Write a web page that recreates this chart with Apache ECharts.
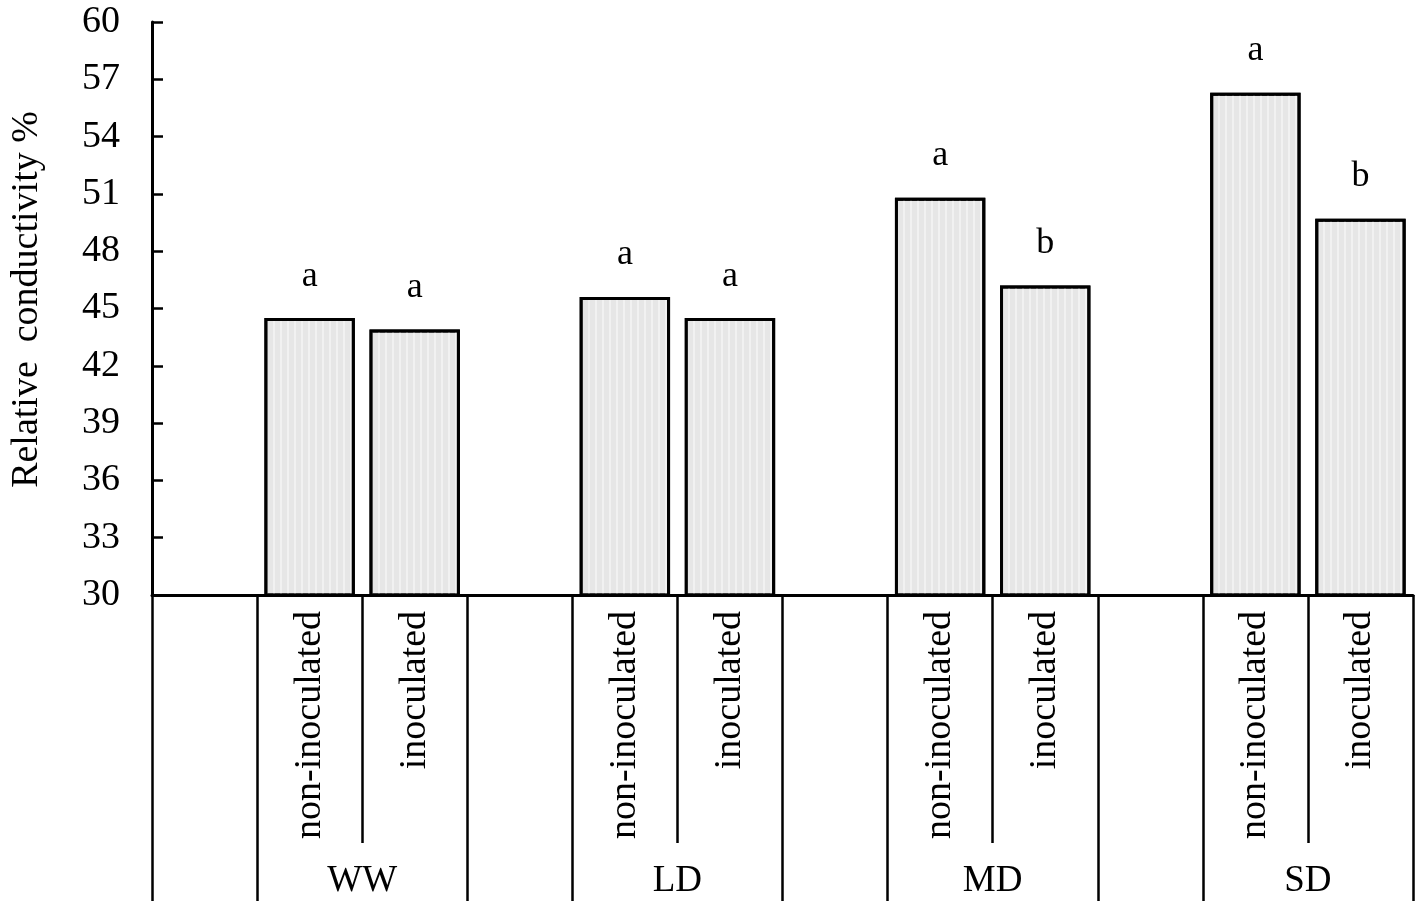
<!DOCTYPE html>
<html>
<head>
<meta charset="utf-8">
<script src="https://cdn.jsdelivr.net/npm/echarts@6/dist/echarts.min.js"></script>
<style>
  html, body { margin: 0; padding: 0; background: #fff; }
  #chart { width: 1418px; height: 901px; }
</style>
</head>
<body>
<div id="chart"></div>
<script>
// ---- Data ----
const groups = ['WW', 'LD', 'MD', 'SD'];
const treatments = ['non-inoculated', 'inoculated'];
const nonInoculated = [44.5, 45.6, 50.8, 56.3];
const inoculated = [43.9, 44.5, 46.2, 49.7];
const lettersNonInoculated = ['a', 'a', 'a', 'a'];
const lettersInoculated = ['a', 'a', 'b', 'b'];
const yTicks = { min: 30, max: 60, interval: 3 };
const yAxisName = 'Relative  conductivity %';

// ---- Build slot arrays: [blank, non-inoculated, inoculated] per group ----
const slotLabels = [];
const slotValues = [];
const slotLetters = [];
groups.forEach(function (g, i) {
  slotLabels.push('', treatments[0], treatments[1]);
  slotValues.push(null, nonInoculated[i], inoculated[i]);
  slotLetters.push('', lettersNonInoculated[i], lettersInoculated[i]);
});
const fullLineIdx = {};
groups.forEach(function (g, i) { fullLineIdx[3 * i] = true; fullLineIdx[3 * i + 1] = true; });

const FONT = '"Liberation Serif", "Times New Roman", serif';
const chart = echarts.init(document.getElementById('chart'));
chart.setOption({
  animation: false,
  backgroundColor: '#ffffff',
  grid: { left: 151, right: 5, top: 22, bottom: 306, containLabel: false },
  xAxis: [
    {
      type: 'category', data: slotLabels, position: 'bottom',
      axisLine: { show: true, lineStyle: { color: '#000', width: 3 } },
      axisTick: { show: true, interval: 0, length: 248, lineStyle: { color: '#000', width: 2.5 } },
      axisLabel: { interval: 0, rotate: 90, margin: 16, color: '#000', fontFamily: FONT, fontSize: 38 },
      splitLine: { show: false }
    },
    {
      type: 'category', data: slotLabels, position: 'bottom',
      axisLine: { show: false },
      axisTick: { show: true, length: 306, interval: function (idx) { return !!fullLineIdx[idx]; },
                  lineStyle: { color: '#000', width: 2.5 } },
      axisLabel: { show: false },
      splitLine: { show: false }
    },
    {
      type: 'category', data: groups, position: 'bottom',
      axisLine: { show: false },
      axisTick: { show: false },
      axisLabel: { interval: 0, margin: 268, padding: [0, 0, 0, 105], color: '#000', fontFamily: FONT, fontSize: 37 },
      splitLine: { show: false }
    }
  ],
  yAxis: {
    type: 'value', min: yTicks.min, max: yTicks.max, interval: yTicks.interval,
    name: yAxisName, nameLocation: 'middle', nameGap: 106,
    nameTextStyle: { color: '#000', fontFamily: FONT, fontSize: 38, padding: [0, 0, 0, 18] },
    axisLine: { show: true, lineStyle: { color: '#000', width: 3 } },
    axisTick: { show: true, inside: true, length: 11, lineStyle: { color: '#000', width: 2.5 } },
    axisLabel: { margin: 32, color: '#000', fontFamily: FONT, fontSize: 38 },
    splitLine: { show: false }
  },
  series: [{
    type: 'bar',
    xAxisIndex: 0,
    data: slotValues,
    barWidth: '86%',
    itemStyle: {
      color: '#e6e6e6', borderColor: '#000', borderWidth: 3,
      decal: { symbol: 'rect', symbolSize: 1, dashArrayX: [2, 5], dashArrayY: [1, 0], color: 'rgba(255,255,255,0.45)' }
    },
    label: {
      show: true, position: 'top', distance: 24,
      color: '#000', fontFamily: FONT, fontSize: 36,
      formatter: function (p) { return slotLetters[p.dataIndex]; }
    }
  }]
});
</script>
</body>
</html>
